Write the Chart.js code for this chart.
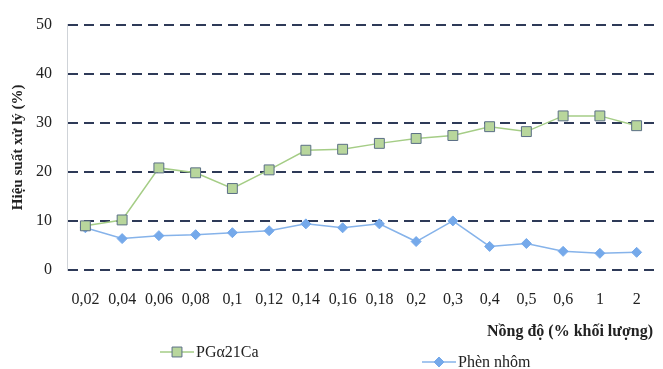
<!DOCTYPE html>
<html>
<head>
<meta charset="utf-8">
<script src="https://cdn.jsdelivr.net/npm/chart.js@4/dist/chart.umd.min.js"></script>
<style>
  html, body { margin: 0; padding: 0; background: #ffffff; }
  #wrap { width: 663px; height: 369px; }
</style>
</head>
<body>
<div id="wrap"><canvas id="chart" width="663" height="369"></canvas></div>
<script>
var concentrations = ['0,02', '0,04', '0,06', '0,08', '0,1', '0,12', '0,14', '0,16', '0,18', '0,2', '0,3', '0,4', '0,5', '0,6', '1', '2'];
var pgValues = [9, 10.2, 20.8, 19.8, 16.6, 20.4, 24.4, 24.6, 25.8, 26.8, 27.4, 29.2, 28.2, 31.4, 31.4, 29.4];
var phenValues = [8.6, 6.4, 7, 7.2, 7.6, 8, 9.4, 8.6, 9.4, 5.8, 10, 4.8, 5.4, 3.8, 3.4, 3.6];
var yTicks = [0, 10, 20, 30, 40, 50];

var serif = "'Liberation Serif', 'DejaVu Serif', serif";

// legend + x title are placed by hand, like in the scan
var extras = {
    id: 'extras',
    afterDraw: function (chart) {
        var ctx = chart.ctx;
        ctx.save();
        ctx.fillStyle = '#222';
        ctx.font = 'bold 16px ' + serif;
        ctx.textAlign = 'right';
        ctx.textBaseline = 'middle';
        ctx.fillText('Nồng độ (% khối lượng)', 653, 332);

        var items = [
            { x: 160, y: 352, ds: chart.data.datasets[0] },
            { x: 422, y: 362, ds: chart.data.datasets[1] }
        ];
        items.forEach(function (it) {
            var cx = it.x + 17;
            var r = it.ds.pointRadius;
            ctx.strokeStyle = it.ds.borderColor;
            ctx.lineWidth = 1.5;
            ctx.beginPath();
            ctx.moveTo(it.x, it.y);
            ctx.lineTo(it.x + 34, it.y);
            ctx.stroke();

            ctx.fillStyle = it.ds.pointBackgroundColor;
            ctx.strokeStyle = it.ds.pointBorderColor;
            ctx.lineWidth = 1;
            ctx.beginPath();
            if (it.ds.pointStyle === 'rect') {
                var s = r * Math.SQRT1_2;
                ctx.rect(cx - s, it.y - s, 2 * s, 2 * s);
            } else {
                ctx.moveTo(cx, it.y - r);
                ctx.lineTo(cx + r, it.y);
                ctx.lineTo(cx, it.y + r);
                ctx.lineTo(cx - r, it.y);
                ctx.closePath();
            }
            ctx.fill();
            ctx.stroke();

            ctx.fillStyle = '#222';
            ctx.font = '16px ' + serif;
            ctx.textAlign = 'left';
            ctx.fillText(it.ds.label, it.x + 36, it.y + 1);
        });
        ctx.restore();
    }
};

var ctx = document.getElementById('chart').getContext('2d');
new Chart(ctx, {
    type: 'line',
    data: {
        labels: concentrations,
        datasets: [{
            label: 'PGα21Ca',
            data: pgValues,
            borderColor: '#a5cd86',
            borderWidth: 1.5,
            pointStyle: 'rect',
            pointRadius: 7,
            pointBackgroundColor: '#b8d69c',
            pointBorderColor: '#5b6f86',
            pointBorderWidth: 1,
            tension: 0
        }, {
            label: 'Phèn nhôm',
            data: phenValues,
            borderColor: '#86b3ea',
            borderWidth: 1.5,
            pointStyle: 'rectRot',
            pointRadius: 5,
            pointBackgroundColor: '#75a9ea',
            pointBorderColor: '#75a9ea',
            pointBorderWidth: 1,
            tension: 0
        }]
    },
    options: {
        responsive: false,
        animation: false,
        layout: { padding: { top: 16, right: 0, left: 0, bottom: 0 } },
        plugins: {
            legend: { display: false },
            tooltip: { enabled: false }
        },
        scales: {
            x: {
                offset: true,
                grid: { display: false },
                border: { display: false },
                ticks: {
                    color: '#222',
                    padding: 12,
                    maxRotation: 0,
                    autoSkip: false,
                    font: { family: serif, size: 16 }
                },
                afterFit: function (scale) { scale.height = 99; }
            },
            y: {
                min: 0,
                max: 50,
                afterBuildTicks: function (scale) {
                    scale.ticks = yTicks.map(function (v) { return { value: v }; });
                },
                grid: {
                    color: '#2e3a58',
                    lineWidth: 2,
                    drawTicks: false
                },
                border: { display: true, color: '#cfd3d8', width: 1, dash: [10, 6] },
                ticks: {
                    color: '#222',
                    padding: 15,
                    font: { family: serif, size: 16 }
                },
                title: {
                    display: true,
                    text: 'Hiệu suất xử lý (%)',
                    color: '#222',
                    padding: { top: 9, bottom: 0 },
                    font: { family: serif, size: 15, weight: 'bold' }
                },
                afterFit: function (scale) { scale.width = 67; }
            }
        }
    },
    plugins: [extras]
});
</script>
</body>
</html>
